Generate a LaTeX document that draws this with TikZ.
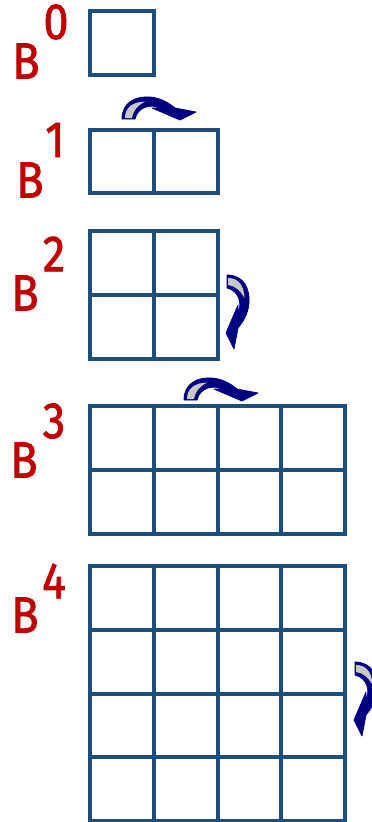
\documentclass[tikz,border=0pt]{standalone}
\usepackage{fontspec}
\setmainfont{Fira Sans}
\newfontfamily\labfont[FakeBold=1.6]{Fira Sans}
\definecolor{gridblue}{RGB}{31,78,125}
\definecolor{labred}{RGB}{192,0,0}
\definecolor{arrnavy}{RGB}{0,0,128}
\definecolor{arrgray}{RGB}{200,200,200}
\newcommand\cellgrid[4]{%
  \foreach \i in {0,...,#3} \draw[gridline] ({#1+\i*63.75},#2) -- ++(0,{#4*63.75});
  \foreach \j in {0,...,#4} \draw[gridline] (#1,{#2+\j*63.75}) -- ++({#3*63.75},0);
}
\newcommand\lbl[1]{\scalebox{0.88}[1]{#1}}
\begin{document}
\begin{tikzpicture}[x=1pt,y=-1pt,
  gridline/.style={draw=gridblue, line width=4pt, line cap=rect},
  lab/.style={text=labred, font=\labfont\fontsize{51}{51}\selectfont, inner sep=0pt},
  curl/.pic={
    \fill[arrnavy, draw=arrnavy, line width=0.8pt, line join=round]
      (0,0) .. controls (0,-17) and (14,-23) .. (28,-22)
      .. controls (40,-21) and (48,-15) .. (53,-11)
      -- (74,-7) -- (58,1) -- (30,-11) -- (38,-11)
      .. controls (30,-15) and (16,-13) .. (13,0) -- cycle;
    \fill[arrgray]
      (3,-1) .. controls (3,-12) and (11,-17) .. (23,-17.5)
      .. controls (15,-13) and (11,-8) .. (10,-1) -- cycle;
  }]
\useasboundingbox (0,0) rectangle (372,822);
% grids
\cellgrid{90}{11}{1}{1}
\cellgrid{90}{129.5}{2}{1}
\cellgrid{90}{231}{2}{2}
\cellgrid{90}{406}{4}{2}
\cellgrid{90}{566}{4}{4}
% labels
\node[lab] (b0) at (26,61) {\lbl{B}};
\node[lab] (e0) at (56,22) {\lbl{0}};
\node[lab] (b1) at (30,180) {\lbl{B}};
\node[lab] (e1) at (55,140) {\lbl{1}};
\node[lab] (b2) at (25,293) {\lbl{B}};
\node[lab] (e2) at (54,254) {\lbl{2}};
\node[lab] (b3) at (24,460) {\lbl{B}};
\node[lab] (e3) at (54,421) {\lbl{3}};
\node[lab] (b4) at (25,615) {\lbl{B}};
\node[lab] (e4) at (54,581) {\lbl{4}};
% curved arrows
\pic at (122,119) {curl};
\pic at (184,400) {curl};
\begin{scope}[shift={(227,275)}, x={(0pt,-1pt)}, y={(-1pt,0pt)}]
  \pic {curl};
\end{scope}
\begin{scope}[shift={(355,662)}, x={(0pt,-1pt)}, y={(-1pt,0pt)}]
  \pic {curl};
\end{scope}
\end{tikzpicture}
\end{document}
